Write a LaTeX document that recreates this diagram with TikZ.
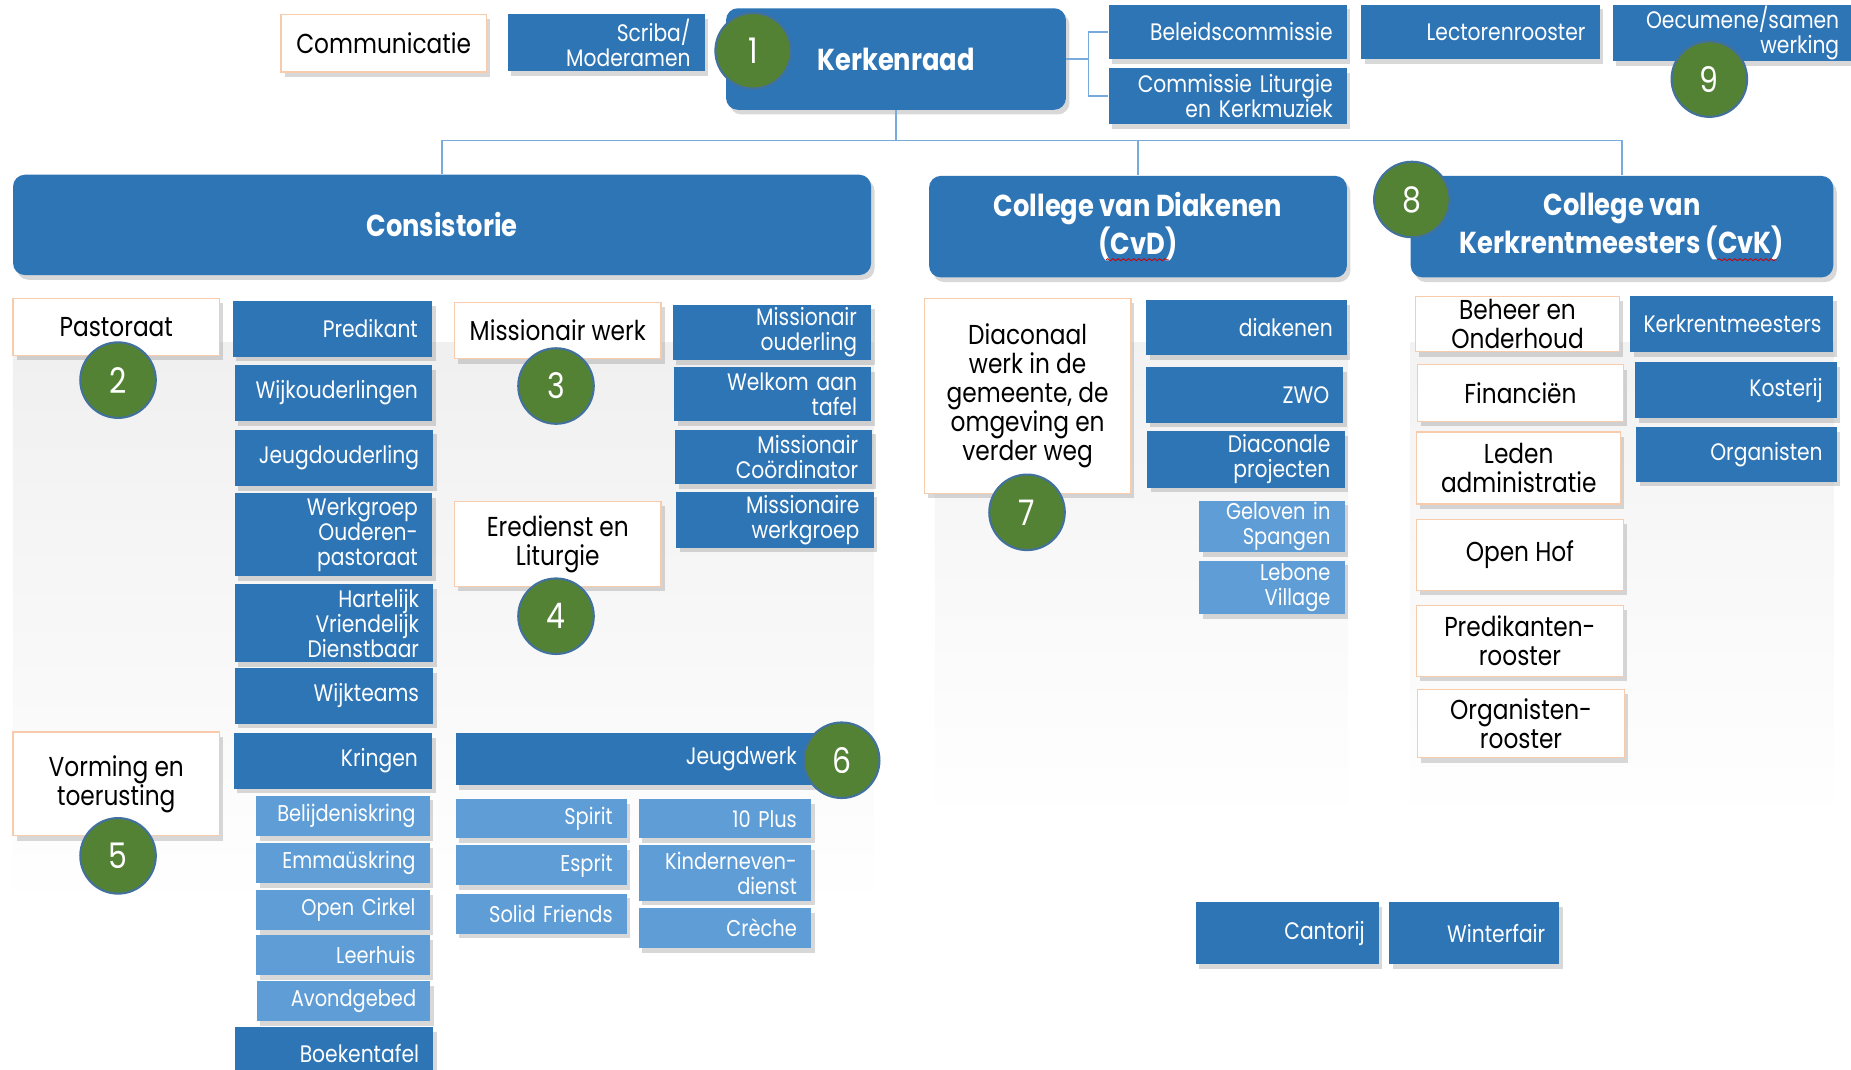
\documentclass[tikz,border=0pt]{standalone}
\usepackage{fontspec}
\setmainfont[FakeStretch=0.85]{Poppins}
\usetikzlibrary{shadows,decorations.pathmorphing}
\definecolor{kblue}{RGB}{46,117,182}
\definecolor{lblue}{RGB}{95,157,214}
\definecolor{kgreen}{RGB}{84,130,53}
\definecolor{ring}{RGB}{65,113,156}
\definecolor{peach}{RGB}{248,203,173}
\definecolor{lijn}{RGB}{120,170,220}

\begin{document}
\begin{tikzpicture}[x=0.02cm,y=-0.02cm,
        shad/.style={drop shadow={shadow xshift=0.06cm,shadow yshift=-0.08cm,opacity=0.3}},
        blk/.style={shad,fill=kblue,text=white,align=right,inner xsep=0.24cm,inner ysep=0pt,font=\fontsize{11.5}{12}\selectfont},
        lblk/.style={blk,fill=lblue,font=\fontsize{11}{12}\selectfont},
        wbox/.style={shad,fill=white,draw=peach,line width=0.6pt,align=center,inner ysep=0pt,font=\fontsize{13.2}{14}\selectfont},
        hdr/.style={shad,fill=kblue,rounded corners=0.2cm,text=white,align=center,font=\fontsize{14.6}{16.5}\bfseries\selectfont},
        num/.style={circle,fill=kgreen,draw=ring,line width=1pt,minimum size=1.28cm,inner sep=0pt,text=white,font=\fontsize{17}{17}\selectfont},
        conn/.style={draw=lijn,line width=0.8pt},
        squig/.style={draw=red!80!black,line width=0.4pt,decorate,decoration={snake,amplitude=0.5pt,segment length=2.5pt}}]
        \fill[white] (0,0) rectangle (1568,906);
        \useasboundingbox (0,0) rectangle (1568,906);
        % grey panels
        \shade[top color=black!6,bottom color=white] (11,290) rectangle (740,770);
        \shade[top color=black!5,bottom color=white] (792,290) rectangle (1142,697);
        \shade[top color=black!5,bottom color=white] (1195,290) rectangle (1553,697);

        % top row
        \node[wbox,minimum width=3.48cm,minimum height=0.98cm] (comm) at (325,36.5) {Communicatie};
        \node[blk,text width=2.86cm,minimum height=0.96cm] (scriba) at (513.5,36) {Scriba/\\Moderamen};
        \node[hdr,minimum width=5.76cm,minimum height=1.72cm] (kerk) at (759,50) {Kerkenraad};
        \node[blk,text width=3.56cm,minimum height=0.92cm] (beleid) at (1040,27) {Beleidscommissie};
        \node[blk,text width=3.56cm,minimum height=0.94cm] (clk) at (1040,81.5) {Commissie Liturgie\\en Kerkmuziek};
        \node[blk,text width=3.56cm,minimum height=0.92cm] (lector) at (1254,27) {Lectorenrooster};
        \node[blk,text width=3.60cm,minimum height=0.96cm] (oecum) at (1468,28) {Oecumene/samen\\werking};

        % colleges
        \node[hdr,minimum width=14.54cm,minimum height=1.70cm] (cons) at (374.5,190.5) {Consistorie};
        \node[hdr,minimum width=7.08cm,minimum height=1.72cm] (cvd) at (964,192) {College van Diakenen\\(CvD)};
        \node[hdr,minimum width=7.16cm,minimum height=1.72cm] (cvk) at (1374,192) {College van\\Kerkrentmeesters (CvK)};

        % lines
        \coordinate (kb) at (922,50);
        \coordinate (tr) at (759,119);
        \draw[conn] (kerk.east) -- (kb) |- (beleid.west);
        \draw[conn] (kb) |- (clk.west);
        \draw[conn] (kerk.south) -- (tr) -| (cons.north);
        \draw[conn] (tr) -| (cvd.north);
        \draw[conn] (tr) -| (cvk.north);

        % consistorie
        \node[wbox,minimum width=3.5cm,minimum height=0.96cm] (past) at (98.5,277) {Pastoraat};
        \node[blk,text width=2.90cm,minimum height=0.94cm] (pred) at (281.5,278.5) {Predikant};
        \node[blk,text width=2.86cm,minimum height=0.96cm] (wijk) at (282.5,333) {Wijkouderlingen};
        \node[blk,text width=2.88cm,minimum height=0.96cm] (jeugdo) at (283,388) {Jeugdouderling};
        \node[blk,text width=2.86cm,minimum height=1.40cm] (werkgr) at (282.5,453) {Werkgroep\\Ouderen-\\pastoraat};
        \node[blk,text width=2.88cm,minimum height=1.32cm] (hvd) at (283,528) {Hartelijk\\Vriendelijk\\Dienstbaar};
        \node[blk,text width=2.88cm,minimum height=0.94cm] (wijkt) at (283,589.5) {Wijkteams};
        \node[wbox,minimum width=3.5cm,minimum height=1.76cm] (vorm) at (98.5,664) {Vorming en\\toerusting};
        \node[blk,text width=2.88cm,minimum height=0.94cm] (kring) at (282,644.5) {Kringen};
        \node[lblk,text width=2.46cm,minimum height=0.68cm] (belijd) at (290.5,691) {Belijdeniskring};
        \node[lblk,text width=2.46cm,minimum height=0.68cm] (emmaus) at (290.5,731) {Emmaüskring};
        \node[lblk,text width=2.46cm,minimum height=0.68cm] (cirkel) at (290.5,771) {Open Cirkel};
        \node[lblk,text width=2.46cm,minimum height=0.68cm] (leerhuis) at (290.5,809) {Leerhuis};
        \node[lblk,text width=2.46cm,minimum height=0.68cm] (avond) at (291,848) {Avondgebed};
        \node[blk,text width=2.88cm,minimum height=0.88cm] (boeken) at (283,892) {Boekentafel};

        \node[wbox,minimum width=3.5cm,minimum height=0.96cm] (miss) at (472.5,280) {Missionair werk};
        \node[blk,text width=2.88cm,minimum height=0.94cm] (missoud) at (654,281.5) {Missionair\\ouderling};
        \node[blk,text width=2.86cm,minimum height=0.92cm] (welkom) at (654.5,334) {Welkom aan\\tafel};
        \node[blk,text width=2.86cm,minimum height=0.92cm] (misscoord) at (655.5,387) {Missionair\\Coördinator};
        \node[blk,text width=2.86cm,minimum height=0.94cm] (misswg) at (656.5,440.5) {Missionaire\\werkgroep};
        \node[wbox,minimum width=3.5cm,minimum height=1.44cm] (ered) at (472.5,461) {Eredienst en\\Liturgie};
        \node[blk,text width=5.80cm,minimum height=0.88cm] (jeugdw) at (543,643) {Jeugdwerk\hspace*{0.26cm}};
        \node[lblk,text width=2.42cm,minimum height=0.66cm] (spirit) at (458.5,693.5) {Spirit};
        \node[lblk,text width=2.42cm,minimum height=0.68cm] (esprit) at (458.5,733) {Esprit};
        \node[lblk,text width=2.42cm,minimum height=0.68cm] (solid) at (458.5,774) {Solid Friends};
        \node[lblk,text width=2.44cm,minimum height=0.66cm] (tenplus) at (614,693.5) {10 Plus};
        \node[lblk,text width=2.44cm,minimum height=0.94cm] (kinder) at (614,739.5) {Kinderneven-\\dienst};
        \node[lblk,text width=2.44cm,minimum height=0.68cm] (creche) at (614,786) {Crèche};

        % diakenen
        \node[wbox,minimum width=3.5cm,minimum height=3.30cm] (diac) at (870.5,335.5) {Diaconaal\\werk in de\\gemeente, de\\omgeving en\\verder weg};
        \node[blk,text width=2.92cm,minimum height=0.94cm] (diakenen) at (1056,277.5) {diakenen};
        \node[blk,text width=2.86cm,minimum height=0.94cm] (zwo) at (1054.5,334.5) {ZWO};
        \node[blk,text width=2.86cm,minimum height=0.96cm] (diacproj) at (1055.5,389) {Diaconale\\projecten};
        \node[lblk,text width=1.98cm,minimum height=0.88cm] (geloven) at (1077.5,446) {Geloven in\\Spangen};
        \node[lblk,text width=1.98cm,minimum height=0.90cm] (lebone) at (1077.5,497.5) {Lebone\\Village};

        % kerkrentmeesters
        \node[wbox,minimum width=3.46cm,minimum height=0.94cm] (beheer) at (1285.5,274.5) {Beheer en\\Onderhoud};
        \node[blk,inner xsep=0.2cm,text width=3.04cm,minimum height=0.94cm] (kerkrm) at (1467,274.5) {Kerkrentmeesters};
        \node[wbox,minimum width=3.48cm,minimum height=0.96cm] (fin) at (1288,333) {Financiën};
        \node[blk,text width=2.94cm,minimum height=0.94cm] (koster) at (1470.5,330.5) {Kosterij};
        \node[wbox,minimum width=3.46cm,minimum height=1.22cm] (leden) at (1286.5,396.5) {Leden\\administratie};
        \node[blk,text width=2.92cm,minimum height=0.92cm] (organ) at (1471,385) {Organisten};
        \node[wbox,minimum width=3.5cm,minimum height=1.20cm] (openhof) at (1287.5,470) {Open Hof};
        \node[wbox,minimum width=3.5cm,minimum height=1.20cm] (predr) at (1287.5,543) {Predikanten-\\rooster};
        \node[wbox,minimum width=3.5cm,minimum height=1.16cm] (orgr) at (1288.5,613) {Organisten-\\rooster};

        % onderaan
        \node[blk,text width=2.62cm,minimum height=1.06cm] (cantorij) at (1090.5,790.5) {Cantorij};
        \node[blk,text width=2.40cm,minimum height=1.06cm] (winter) at (1249,790.5) {Winterfair};

        % spellcheck marks
        \draw[squig] (937,220) -- (990,220);
        \draw[squig] (1455,220) -- (1505,220);

        % numbers
        \node[num] (n1) at (638,43) {1};
        \node[num] (n2) at (100,322) {2};
        \node[num] (n3) at (471,327) {3};
        \node[num] (n4) at (471,522) {4};
        \node[num] (n5) at (100,725) {5};
        \node[num] (n6) at (713,644) {6};
        \node[num] (n7) at (870,434) {7};
        \node[num] (n8) at (1196,169) {8};
        \node[num] (n9) at (1448,67) {9};
    \end{tikzpicture}
\end{document}
